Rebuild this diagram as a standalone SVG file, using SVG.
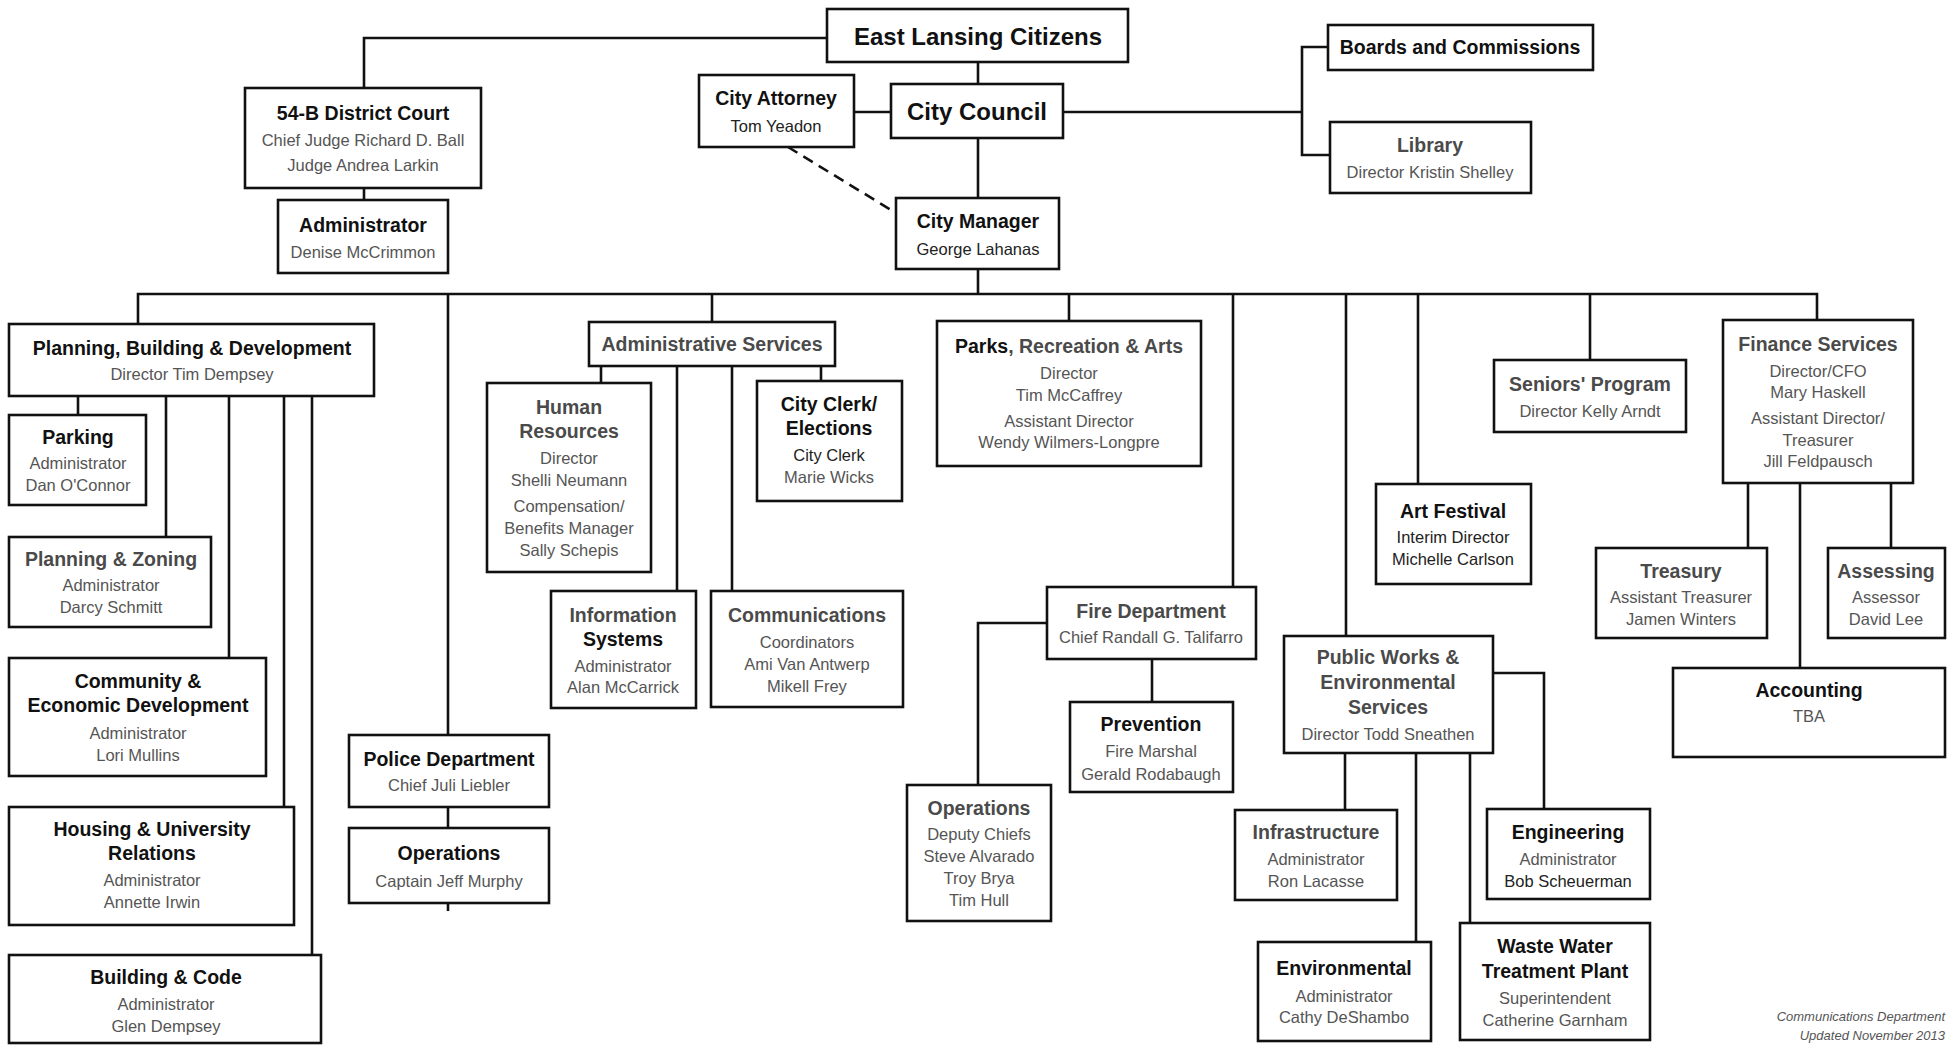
<svg xmlns="http://www.w3.org/2000/svg" width="1955" height="1046" viewBox="0 0 1955 1046">
<style>
rect.b{fill:#fff;stroke:#111;stroke-width:2.6}
.c path{fill:none;stroke:#111;stroke-width:2.6}
.c path.d{stroke-dasharray:11 7}
text{font-family:"Liberation Sans",Arial,sans-serif;text-anchor:middle}
.t{font-size:19.5px;font-weight:bold;fill:#111}
.tg{font-size:19.5px;font-weight:bold;fill:#4a4a4a}
.big{font-size:24px;font-weight:bold;fill:#111}
.s{font-size:16.5px;fill:#555}
.sd{font-size:16.5px;fill:#222}
.f{font-size:13px;font-style:italic;fill:#555;text-anchor:end}
</style>
<rect width="1955" height="1046" fill="#fff"/>
<g class="c" id="connectors">
<path d="M364,88 V38 H827"/>
<path d="M364,188 V200"/>
<path d="M978,62 V84"/>
<path d="M854,112 H891"/>
<path d="M978,138 V198"/>
<path class="d" d="M788,147 L896,213"/>
<path d="M1063,112 H1302"/>
<path d="M1328,47 H1302 V155 H1330"/>
<path d="M978,269 V294"/>
<path d="M138,324 V294 H1817 V320"/>
<path d="M78,396 V415"/>
<path d="M166,396 V537"/>
<path d="M229,396 V658"/>
<path d="M284,396 V807"/>
<path d="M312,396 V955"/>
<path d="M448,294 V735"/>
<path d="M448,807 V828"/>
<path d="M448,903 V911"/>
<path d="M712,294 V322"/>
<path d="M601,366 V383"/>
<path d="M677,366 V591"/>
<path d="M732,366 V591"/>
<path d="M821,366 V381"/>
<path d="M1069,294 V321"/>
<path d="M1233,294 V587"/>
<path d="M1047,623 H978 V785"/>
<path d="M1152,659 V702"/>
<path d="M1346,294 V636"/>
<path d="M1345,753 V810"/>
<path d="M1416,753 V942"/>
<path d="M1470,753 V923"/>
<path d="M1493,673 H1544 V809"/>
<path d="M1418,294 V484"/>
<path d="M1590,294 V360"/>
<path d="M1748,483 V548"/>
<path d="M1800,483 V668"/>
<path d="M1891,483 V548"/>
</g>
<g id="citizens"><rect class="b" x="827" y="9" width="301" height="53"/><text class="big" x="978" y="45">East Lansing Citizens</text></g>
<g id="council"><rect class="b" x="891" y="84" width="172" height="54"/><text class="big" x="977" y="120">City Council</text></g>
<g id="attorney"><rect class="b" x="699" y="75" width="155" height="72"/><text class="t" x="776" y="105">City Attorney</text><text class="sd" x="776" y="132">Tom Yeadon</text></g>
<g id="manager"><rect class="b" x="896" y="198" width="163" height="71"/><text class="t" x="978" y="228">City Manager</text><text class="sd" x="978" y="255">George Lahanas</text></g>
<g id="court"><rect class="b" x="245" y="88" width="236" height="100"/><text class="t" x="363" y="120">54-B District Court</text><text class="s" x="363" y="146">Chief Judge Richard D. Ball</text><text class="s" x="363" y="171">Judge Andrea Larkin</text></g>
<g id="court-admin"><rect class="b" x="278" y="200" width="170" height="73"/><text class="t" x="363" y="232">Administrator</text><text class="s" x="363" y="258">Denise McCrimmon</text></g>
<g id="boards"><rect class="b" x="1328" y="25" width="265" height="45"/><text class="t" x="1460" y="54">Boards and Commissions</text></g>
<g id="library"><rect class="b" x="1330" y="122" width="201" height="71"/><text class="tg" x="1430" y="152">Library</text><text class="s" x="1430" y="178">Director Kristin Shelley</text></g>
<g id="planning"><rect class="b" x="9" y="324" width="365" height="72"/><text class="t" x="192" y="355">Planning, Building &amp; Development</text><text class="s" x="192" y="380">Director Tim Dempsey</text></g>
<g id="parking"><rect class="b" x="9" y="415" width="137" height="90"/><text class="t" x="78" y="444">Parking</text><text class="s" x="78" y="469">Administrator</text><text class="s" x="78" y="491">Dan O'Connor</text></g>
<g id="zoning"><rect class="b" x="9" y="537" width="202" height="90"/><text class="tg" x="111" y="566">Planning &amp; Zoning</text><text class="s" x="111" y="591">Administrator</text><text class="s" x="111" y="613">Darcy Schmitt</text></g>
<g id="community"><rect class="b" x="9" y="658" width="257" height="118"/><text class="t" x="138" y="688">Community &amp;</text><text class="t" x="138" y="712">Economic Development</text><text class="s" x="138" y="739">Administrator</text><text class="s" x="138" y="761">Lori Mullins</text></g>
<g id="housing"><rect class="b" x="9" y="807" width="285" height="118"/><text class="t" x="152" y="836">Housing &amp; University</text><text class="t" x="152" y="860">Relations</text><text class="s" x="152" y="886">Administrator</text><text class="s" x="152" y="908">Annette Irwin</text></g>
<g id="building"><rect class="b" x="9" y="955" width="312" height="88"/><text class="t" x="166" y="984">Building &amp; Code</text><text class="s" x="166" y="1010">Administrator</text><text class="s" x="166" y="1032">Glen Dempsey</text></g>
<g id="police"><rect class="b" x="349" y="735" width="200" height="72"/><text class="t" x="449" y="766">Police Department</text><text class="s" x="449" y="791">Chief Juli Liebler</text></g>
<g id="police-ops"><rect class="b" x="349" y="828" width="200" height="75"/><text class="t" x="449" y="860">Operations</text><text class="s" x="449" y="887">Captain Jeff Murphy</text></g>
<g id="admin-services"><rect class="b" x="589" y="322" width="246" height="44"/><text class="tg" x="712" y="351">Administrative Services</text></g>
<g id="hr"><rect class="b" x="487" y="383" width="164" height="189"/><text class="tg" x="569" y="414">Human</text><text class="tg" x="569" y="438">Resources</text><text class="s" x="569" y="464">Director</text><text class="s" x="569" y="486">Shelli Neumann</text><text class="s" x="569" y="512">Compensation/</text><text class="s" x="569" y="534">Benefits Manager</text><text class="s" x="569" y="556">Sally Schepis</text></g>
<g id="clerk"><rect class="b" x="757" y="381" width="145" height="120"/><text class="t" x="829" y="411">City Clerk/</text><text class="t" x="829" y="435">Elections</text><text class="sd" x="829" y="461">City Clerk</text><text class="s" x="829" y="483">Marie Wicks</text></g>
<g id="info"><rect class="b" x="551" y="591" width="145" height="117"/><text class="tg" x="623" y="622">Information</text><text class="t" x="623" y="646">Systems</text><text class="s" x="623" y="672">Administrator</text><text class="s" x="623" y="693">Alan McCarrick</text></g>
<g id="communications"><rect class="b" x="711" y="591" width="192" height="116"/><text class="tg" x="807" y="622">Communications</text><text class="s" x="807" y="648">Coordinators</text><text class="s" x="807" y="670">Ami Van Antwerp</text><text class="s" x="807" y="692">Mikell Frey</text></g>
<g id="parks"><rect class="b" x="937" y="321" width="264" height="145"/><text class="tg" x="1069" y="353"><tspan fill="#111">Parks</tspan>, Recreation &amp; Arts</text><text class="s" x="1069" y="379">Director</text><text class="s" x="1069" y="401">Tim McCaffrey</text><text class="s" x="1069" y="427">Assistant Director</text><text class="s" x="1069" y="448">Wendy Wilmers-Longpre</text></g>
<g id="fire"><rect class="b" x="1047" y="587" width="209" height="72"/><text class="tg" x="1151" y="618">Fire Department</text><text class="s" x="1151" y="643">Chief Randall G. Talifarro</text></g>
<g id="prevention"><rect class="b" x="1070" y="702" width="163" height="90"/><text class="t" x="1151" y="731">Prevention</text><text class="s" x="1151" y="757">Fire Marshal</text><text class="s" x="1151" y="780">Gerald Rodabaugh</text></g>
<g id="fire-ops"><rect class="b" x="907" y="785" width="144" height="136"/><text class="tg" x="979" y="815">Operations</text><text class="s" x="979" y="840">Deputy Chiefs</text><text class="s" x="979" y="862">Steve Alvarado</text><text class="s" x="979" y="884">Troy Brya</text><text class="s" x="979" y="906">Tim Hull</text></g>
<g id="art"><rect class="b" x="1376" y="484" width="155" height="100"/><text class="t" x="1453" y="518">Art Festival</text><text class="sd" x="1453" y="543">Interim Director</text><text class="sd" x="1453" y="565">Michelle Carlson</text></g>
<g id="public-works"><rect class="b" x="1284" y="636" width="209" height="117"/><text class="tg" x="1388" y="664">Public Works &amp;</text><text class="tg" x="1388" y="689">Environmental</text><text class="tg" x="1388" y="714">Services</text><text class="s" x="1388" y="740">Director Todd Sneathen</text></g>
<g id="infrastructure"><rect class="b" x="1235" y="810" width="162" height="90"/><text class="tg" x="1316" y="839">Infrastructure</text><text class="s" x="1316" y="865">Administrator</text><text class="s" x="1316" y="887">Ron Lacasse</text></g>
<g id="engineering"><rect class="b" x="1487" y="809" width="163" height="90"/><text class="t" x="1568" y="839">Engineering</text><text class="s" x="1568" y="865">Administrator</text><text class="sd" x="1568" y="887">Bob Scheuerman</text></g>
<g id="environmental"><rect class="b" x="1258" y="942" width="173" height="99"/><text class="t" x="1344" y="975">Environmental</text><text class="s" x="1344" y="1002">Administrator</text><text class="s" x="1344" y="1023">Cathy DeShambo</text></g>
<g id="wwtp"><rect class="b" x="1460" y="923" width="190" height="117"/><text class="t" x="1555" y="953">Waste Water</text><text class="t" x="1555" y="978">Treatment Plant</text><text class="s" x="1555" y="1004">Superintendent</text><text class="s" x="1555" y="1026">Catherine Garnham</text></g>
<g id="seniors"><rect class="b" x="1494" y="360" width="192" height="72"/><text class="tg" x="1590" y="391">Seniors' Program</text><text class="s" x="1590" y="417">Director Kelly Arndt</text></g>
<g id="finance"><rect class="b" x="1723" y="320" width="190" height="163"/><text class="tg" x="1818" y="351">Finance Services</text><text class="s" x="1818" y="377">Director/CFO</text><text class="s" x="1818" y="398">Mary Haskell</text><text class="s" x="1818" y="424">Assistant Director/</text><text class="s" x="1818" y="446">Treasurer</text><text class="s" x="1818" y="467">Jill Feldpausch</text></g>
<g id="treasury"><rect class="b" x="1596" y="548" width="171" height="90"/><text class="tg" x="1681" y="578">Treasury</text><text class="s" x="1681" y="603">Assistant Treasurer</text><text class="s" x="1681" y="625">Jamen Winters</text></g>
<g id="assessing"><rect class="b" x="1828" y="548" width="117" height="90"/><text class="tg" x="1886" y="578">Assessing</text><text class="s" x="1886" y="603">Assessor</text><text class="s" x="1886" y="625">David Lee</text></g>
<g id="accounting"><rect class="b" x="1673" y="668" width="272" height="89"/><text class="t" x="1809" y="697">Accounting</text><text class="s" x="1809" y="722">TBA</text></g>
<g id="footer"><text class="f" x="1945" y="1021">Communications Department</text><text class="f" x="1945" y="1040">Updated November 2013</text></g>
</svg>
